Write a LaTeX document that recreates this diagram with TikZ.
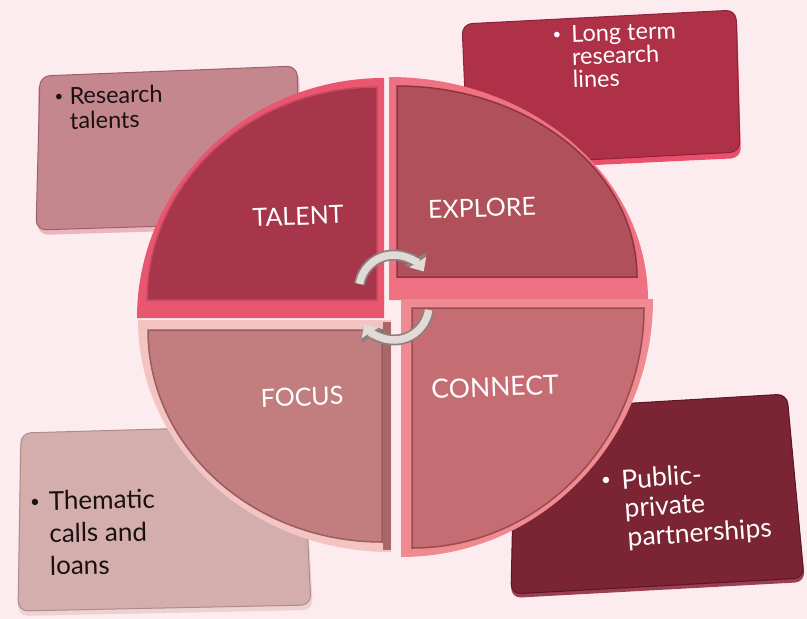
\documentclass[tikz,border=0pt]{standalone}
\usepackage{fontspec}
\setmainfont{Lato}
\usetikzlibrary{arrows.meta}
\definecolor{bg}{HTML}{FCECEF}
\definecolor{boxA}{HTML}{C4878D}\definecolor{boxAedge}{HTML}{9E6068}\definecolor{boxArim}{HTML}{EBB5BD}
\definecolor{boxB}{HTML}{AE3148}\definecolor{boxBedge}{HTML}{8E2238}\definecolor{boxBrim}{HTML}{E8506B}
\definecolor{boxC}{HTML}{D3AEAC}\definecolor{boxCedge}{HTML}{AE8C8A}\definecolor{boxCrim}{HTML}{EDD2D2}
\definecolor{boxD}{HTML}{7A2434}\definecolor{boxDedge}{HTML}{5A1626}\definecolor{boxDrim}{HTML}{9A3E50}
\definecolor{rimT}{HTML}{E9566F}\definecolor{faceT}{HTML}{A8364A}\definecolor{bevT}{HTML}{C94A60}
\definecolor{rimE}{HTML}{EE7282}\definecolor{faceE}{HTML}{B0505A}\definecolor{bevE}{HTML}{8E3440}
\definecolor{rimF}{HTML}{F3C4C1}\definecolor{faceF}{HTML}{C27E7E}\definecolor{bevF}{HTML}{9A5C5C}\definecolor{sideF}{HTML}{A86868}
\definecolor{rimC}{HTML}{EE8A90}\definecolor{faceC}{HTML}{C56D72}\definecolor{bevC}{HTML}{9A4A50}
\definecolor{silver}{HTML}{E2DAD6}\definecolor{silveredge}{HTML}{8C817C}
\definecolor{txtdark}{HTML}{1A1012}
\tikzset{
  boxshape/.style={rounded corners=10pt, line width=1pt},
  darktxt/.style={text=txtdark, inner sep=0pt, anchor=base west, align=left},
  lighttxt/.style={text=white, inner sep=0pt, anchor=base west, align=left},
  bulletmark/.style={inner sep=0pt, anchor=center, font=\fontsize{15}{15}\selectfont},
  seclabel/.style={text=white, inner sep=0pt, font=\fontsize{25}{27}\selectfont, rotate=2},
  arrowout/.style={line width=11pt, silveredge, -{Triangle[length=15pt,width=25pt]}},
  arrowin/.style={line width=7.5pt, silver, -{Triangle[length=11pt,width=19pt]}},
}
\begin{document}
\begin{tikzpicture}[x=1pt,y=-1pt]
\useasboundingbox (0,0) rectangle (807,619);
\fill[bg] (0,0) rectangle (807,619);

% ---- boxes (behind the disc)
\fill[boxArim, boxshape] (38,80) -- (299,70) -- (304,227) -- (38,235) -- cycle;
\filldraw[fill=boxA, draw=boxAedge, boxshape] (40,76) -- (297,66) -- (301,222) -- (36,230) -- cycle;

\fill[boxBrim, boxshape] (463,29) -- (737,15) -- (741,158) -- (470,171) -- cycle;
\filldraw[fill=boxB, draw=boxBedge, boxshape] (462,24) -- (736,10) -- (740,152) -- (468,166) -- cycle;

\fill[boxCrim, boxshape] (20,437) -- (303,429) -- (313,610) -- (18,616) -- cycle;
\filldraw[fill=boxC, draw=boxCedge, boxshape] (21,433) -- (302,425) -- (311,605) -- (18,611) -- cycle;

\fill[boxDrim, boxshape] (515,413) -- (787,397) -- (805,582) -- (511,598) -- cycle;
\filldraw[fill=boxD, draw=boxDedge, boxshape] (515,410) -- (787,394) -- (804,578) -- (511,594) -- cycle;

% ---- disc sectors (top ones first)
\fill[rimT] (384,318) -- (384,78) arc[start angle=-90, end angle=-180, x radius=247, y radius=240] -- cycle;
\filldraw[fill=faceT, draw=bevT, line width=1.5pt] (377,300) -- (377,87) arc[start angle=-90, end angle=-180, x radius=230, y radius=213] -- cycle;

\fill[rimE] (389,300) -- (389,77) arc[start angle=-90, end angle=0, x radius=259, y radius=223] -- cycle;
\filldraw[fill=faceE, draw=bevE, line width=1.5pt] (397,277) -- (397,86) arc[start angle=-90, end angle=0, x radius=240, y radius=191] -- cycle;

\fill[rimF] (391,320) -- (138,320) arc[start angle=180, end angle=90, x radius=253, y radius=232] -- cycle;
\fill[sideF] (383,322) rectangle (391,550);
\filldraw[fill=faceF, draw=bevF, line width=1.5pt] (382,330) -- (148,330) arc[start angle=180, end angle=90, x radius=234, y radius=212] -- cycle;

\fill[rimC] (401,299) -- (653,299) arc[start angle=0, end angle=90, x radius=252, y radius=258] -- cycle;
\filldraw[fill=faceC, draw=bevC, line width=1.5pt] (412,308) -- (644,308) arc[start angle=0, end angle=90, x radius=232, y radius=240] -- cycle;

% ---- central cycle arrows
\draw[arrowout] (394,290) ++(190:35) arc[start angle=190, end angle=328, radius=35];
\draw[arrowin] (394,290) ++(190:35) arc[start angle=190, end angle=328, radius=35];
\draw[arrowout] (394,305) ++(8:35) arc[start angle=8, end angle=148, radius=35];
\draw[arrowin] (394,305) ++(8:35) arc[start angle=8, end angle=148, radius=35];

% ---- sector labels
\node[seclabel] (talent) at (298,216) {TALENT};
\node[seclabel] (explore) at (482,208) {EXPLORE};
\node[seclabel] (focus) at (302,397) {FOCUS};
\node[seclabel, font=\fontsize{26.5}{28}\selectfont] (connect) at (495,387) {CONNECT};

% ---- box texts (anchored at the baseline of the last line)
\node[bulletmark, text=txtdark] (b1) at (59,98) {•};
\node[darktxt, rotate=1, font=\fontsize{23.5}{25}\selectfont] (t1) at (70,129) {Research\\talents};

\node[bulletmark, text=white] (b2) at (557,36) {•};
\node[lighttxt, rotate=2, font=\fontsize{23.5}{23}\selectfont] (t2) at (573,88) {Long term\\research\\lines};

\node[bulletmark, text=txtdark, font=\fontsize{17}{17}\selectfont] (b3) at (35,503) {•};
\node[darktxt, rotate=1, font=\fontsize{26}{32.5}\selectfont] (t3) at (50,575) {Thematic\\calls and\\loans};

\node[bulletmark, text=white, font=\fontsize{17}{17}\selectfont] (b4) at (606,481) {•};
\node[lighttxt, rotate=4, font=\fontsize{26.5}{29}\selectfont] (t4) at (626,547) {Public-\\\hspace*{1pt}private\\\hspace*{2pt}partnerships};
\end{tikzpicture}
\end{document}
